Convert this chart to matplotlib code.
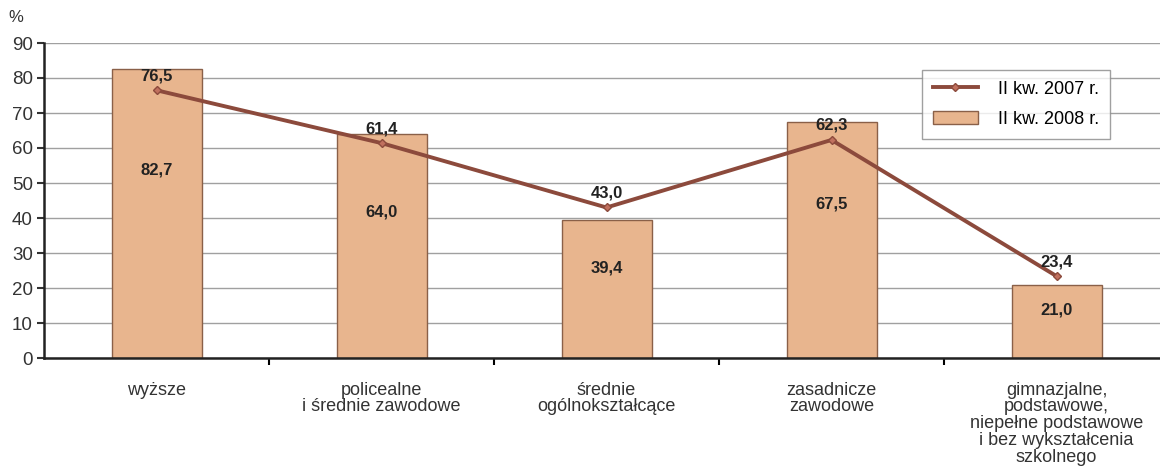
import numpy as np
import matplotlib
matplotlib.use("Agg")
import matplotlib.pyplot as plt

categories = [
    "wyższe",
    "policealne\ni średnie zawodowe",
    "średnie\nogólnokształcące",
    "zasadnicze\nzawodowe",
    "gimnazjalne,\npodstawowe,\nniepełne podstawowe\ni bez wykształcenia\nszkolnego",
]
values_2008 = [82.7, 64.0, 39.4, 67.5, 21.0]
values_2007 = [76.5, 61.4, 43.0, 62.3, 23.4]
label_2007 = "II kw. 2007 r."
label_2008 = "II kw. 2008 r."

plt.rcParams['font.family'] = ['Liberation Sans', 'DejaVu Sans']

bar_color = '#E8B58E'
bar_edge = '#8A6048'
line_color = '#8C4A3C'

fig = plt.figure(figsize=(11.6, 4.73), dpi=100)
ax = fig.add_axes([44 / 1160, 1 - 358 / 473, 1 - 44 / 1160, 315 / 473])

x = np.arange(len(categories))
bars = ax.bar(x, values_2008, width=0.4, color=bar_color, edgecolor=bar_edge,
              linewidth=1, zorder=2, label=label_2008)
line, = ax.plot(x, values_2007, color=line_color, linewidth=2.8, marker='D',
                markersize=4, markerfacecolor='#C0705E',
                markeredgecolor=line_color, zorder=3, label=label_2007)

# value labels
for xi, v in zip(x, values_2008):
    ax.text(xi, v * 0.65, f"{v:.1f}".replace('.', ','), ha='center',
            va='center', fontsize=12, fontweight='bold', color='#222222',
            zorder=4)
for xi, v in zip(x, values_2007):
    ax.annotate(f"{v:.1f}".replace('.', ','), (xi, v), xytext=(0, 10.5),
                textcoords='offset points', ha='center', va='center',
                fontsize=12, fontweight='bold', color='#222222', zorder=4)

ax.set_xlim(-0.5, 4.46)
ax.set_ylim(0, 90)
ax.set_yticks(range(0, 91, 10))
ax.tick_params(axis='y', labelsize=13.5, length=5, width=1.5, direction='out',
               colors='#333333', pad=3)
ax.yaxis.grid(True, color='#A0A0A0', linewidth=1, zorder=0)
ax.set_axisbelow(True)

ax.set_xticks(np.arange(0.5, 4.5, 1))
ax.set_xticklabels([])
ax.set_xticks(x, minor=True)
ax.set_xticklabels(categories, minor=True, fontsize=13, color='#333333',
                   linespacing=0.98)
ax.tick_params(axis='x', which='minor', length=0, pad=17)
ax.tick_params(axis='x', which='major', length=5, width=1.5, direction='out')

for s in ['top', 'right']:
    ax.spines[s].set_visible(False)
ax.spines['left'].set_linewidth(1.8)
ax.spines['bottom'].set_linewidth(1.8)
ax.spines['left'].set_color('#222222')
ax.spines['bottom'].set_color('#222222')

fig.text(8 / 1160, 1 - 18 / 473, "%", fontsize=12, color='#333333',
         va='center')

leg = fig.legend([line, bars], [label_2007, label_2008], loc='upper left',
                 bbox_to_anchor=(922 / 1160, 1 - 70 / 473), fontsize=13,
                 frameon=True, fancybox=False, edgecolor='#888888',
                 handlelength=2.5, handleheight=0.8, borderpad=0.6,
                 labelspacing=0.7, handletextpad=1.1, borderaxespad=0)
leg.get_frame().set_linewidth(1)

fig.savefig("out.png", dpi=100, facecolor='white')
